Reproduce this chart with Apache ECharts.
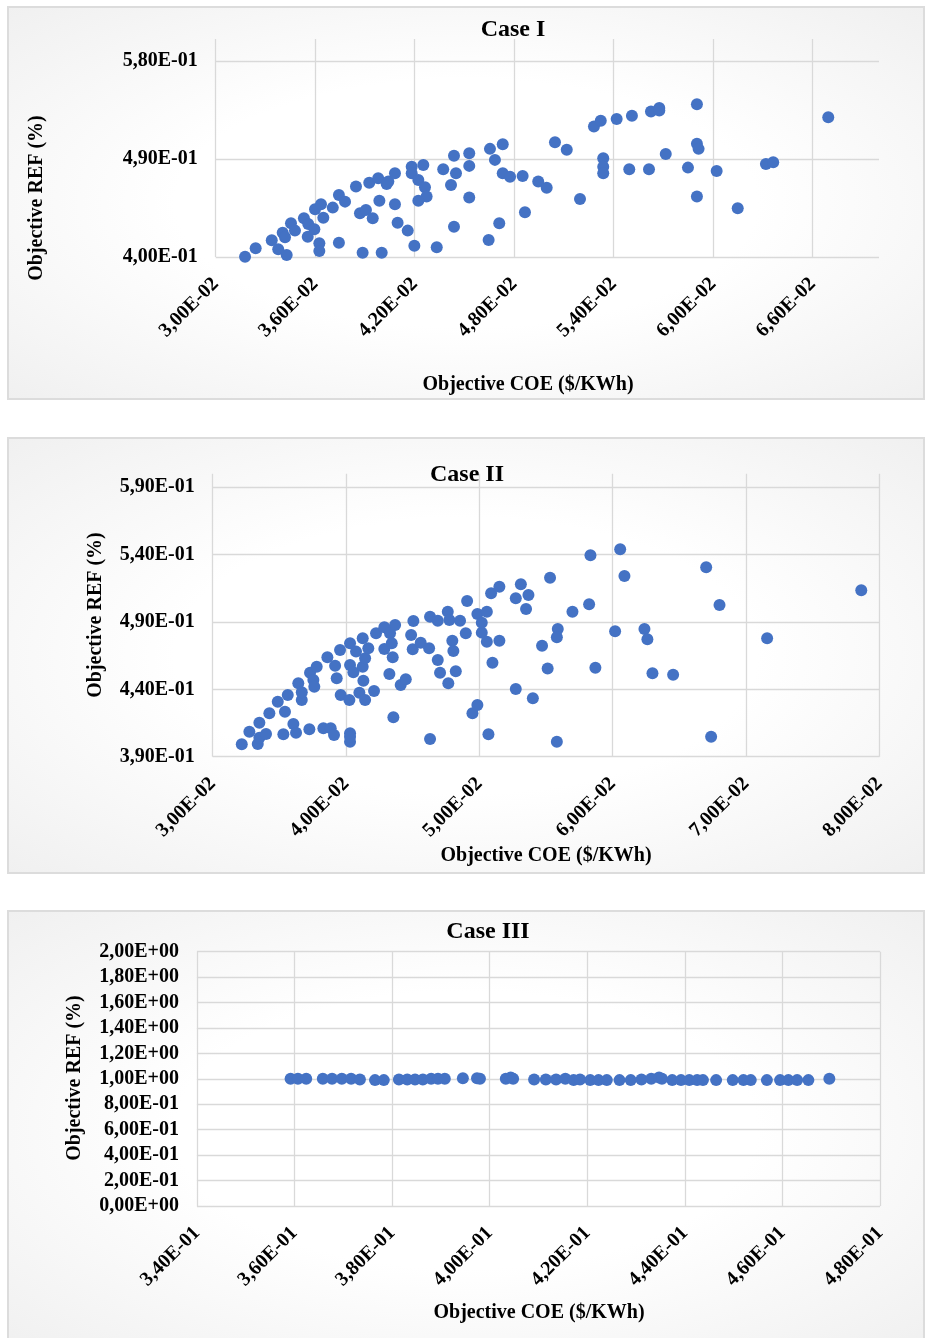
<!DOCTYPE html>
<html>
<head>
<meta charset="utf-8">
<title>Case I / II / III — COE vs REF</title>
<script src="https://cdn.jsdelivr.net/npm/echarts@6/dist/echarts.min.js"></script>
<style>
  html, body { margin: 0; padding: 0; background: #ffffff; }
  #wrap { position: relative; width: 925px; height: 1338px; overflow: hidden; }
  .panel {
    position: absolute; box-sizing: border-box;
    border: 2px solid #dcdcdc;
    background: radial-gradient(ellipse at 50% 50%, #ffffff 45%, #f0f0f0 100%);
  }
  #chart { position: absolute; left: 0; top: 0; width: 925px; height: 1338px; }
</style>
</head>
<body>
<div id="wrap">
  <div class="panel" style="left:7px;top:6px;width:918px;height:394px"></div>
  <div class="panel" style="left:7px;top:437px;width:918px;height:437px"></div>
  <div class="panel" style="left:7px;top:910px;width:918px;height:440px"></div>
  <div id="chart"></div>
</div>
<script>
// ---- Case I : Pareto points (COE in $/kWh, REF fraction) ----
const case1Coe = [0.03177,0.03241,0.03338,0.03377,0.03428,0.03404,0.03418,0.03454,0.03478,0.03532,
  0.03555,0.03558,0.03595,0.03599,0.03635,0.03649,0.03625,0.03625,0.03706,0.03743,
  0.03743,0.03780,0.03846,0.03870,0.03906,0.03947,0.03886,0.03926,0.03980,0.04031,
  0.04041,0.03987,0.04001,0.04081,0.04081,0.04097,0.04158,0.04182,0.04182,0.04252,
  0.04222,0.04262,0.04272,0.04222,0.04198,0.04333,0.04372,0.04437,0.04449,0.04419,
  0.04437,0.04529,0.04529,0.04529,0.04654,0.04731,0.04684,0.04731,0.04775,0.04851,
  0.04865,0.04710,0.04646,0.04945,0.04996,0.05046,0.05117,0.05197,0.05281,0.05322,
  0.05337,0.05337,0.05337,0.05418,0.05494,0.05510,0.05613,0.05625,0.05675,0.05675,
  0.05714,0.05848,0.05902,0.05902,0.05912,0.05902,0.06021,0.06148,0.06318,0.06362,
  0.06694];
const case1Ref = [0.4003,0.4080,0.4153,0.4071,0.4018,0.4223,0.4181,0.4310,0.4242,0.4355,
  0.4186,0.4303,0.4254,0.4438,0.4484,0.4361,0.4126,0.4055,0.4453,0.4131,
  0.4569,0.4508,0.4646,0.4401,0.4432,0.4355,0.4039,0.4682,0.4723,0.4670,
  0.4692,0.4517,0.4039,0.4769,0.4484,0.4315,0.4242,0.4829,0.4769,0.4845,
  0.4707,0.4640,0.4554,0.4517,0.4104,0.4089,0.4805,0.4928,0.4769,0.4661,
  0.4278,0.4952,0.4836,0.4545,0.4992,0.5035,0.4891,0.4769,0.4737,0.4744,
  0.4411,0.4310,0.4156,0.4692,0.4636,0.5053,0.4983,0.4533,0.5197,0.5249,
  0.4906,0.4829,0.4769,0.5267,0.4805,0.5295,0.4805,0.5334,0.5366,0.5344,
  0.4946,0.4820,0.5402,0.5038,0.4992,0.4554,0.4790,0.4447,0.4854,0.4870,
  0.5283];

// ---- Case II ----
const case2Coe = [0.03218,0.03275,0.03338,0.03350,0.03350,0.03400,0.03425,0.03488,0.03542,0.03563,
  0.03530,0.03605,0.03625,0.03642,0.03668,0.03668,0.03725,0.03730,0.03755,0.03762,
  0.03780,0.03830,0.03885,0.03910,0.03860,0.03918,0.03930,0.03955,0.03960,0.04025,
  0.04030,0.04030,0.04030,0.04030,0.04030,0.04055,0.04075,0.04125,0.04125,0.04130,
  0.04100,0.04143,0.04143,0.04167,0.04210,0.04225,0.04287,0.04287,0.04330,0.04343,
  0.04350,0.04368,0.04325,0.04355,0.04410,0.04448,0.04488,0.04500,0.04505,0.04560,
  0.04623,0.04630,0.04688,0.04688,0.04705,0.04630,0.04763,0.04775,0.04767,0.04797,
  0.04805,0.04823,0.04855,0.04898,0.04908,0.04948,0.04985,0.04985,0.05018,0.05018,
  0.05056,0.05056,0.05068,0.05098,0.05088,0.05150,0.05150,0.05273,0.05311,0.05368,
  0.05350,0.05273,0.05401,0.05470,0.05512,0.05530,0.05588,0.05581,0.05581,0.05698,
  0.05823,0.05833,0.05870,0.06056,0.06088,0.06018,0.06238,0.06260,0.06298,0.06453,
  0.06701,0.06801,0.06738,0.07158,0.07864];
const case2Ref = [0.3992,0.4086,0.3994,0.4041,0.4152,0.4069,0.4222,0.4308,0.4234,0.4358,
  0.4066,0.4143,0.4078,0.4445,0.4321,0.4378,0.4103,0.4524,0.4469,0.4420,
  0.4568,0.4111,0.4111,0.4061,0.4638,0.4576,0.4482,0.4692,0.4358,0.4321,
  0.4074,0.4011,0.4048,0.4742,0.4581,0.4527,0.4680,0.4779,0.4568,0.4464,
  0.4375,0.4631,0.4321,0.4705,0.4388,0.4816,0.4861,0.4700,0.4816,0.4742,
  0.4638,0.4878,0.4514,0.4193,0.4432,0.4475,0.4804,0.4697,0.4907,0.4746,
  0.4705,0.4939,0.4910,0.4618,0.4524,0.4031,0.4976,0.4915,0.4445,0.4761,
  0.4685,0.4534,0.4910,0.4816,0.5056,0.4222,0.4284,0.4959,0.4821,0.4895,
  0.4976,0.4754,0.4066,0.4598,0.5113,0.5162,0.4761,0.5076,0.5180,0.5100,
  0.4997,0.4403,0.4334,0.4724,0.4555,0.5229,0.4848,0.4786,0.4011,0.4976,
  0.5031,0.5395,0.4561,0.5440,0.5242,0.4831,0.4848,0.4772,0.4519,0.4509,
  0.5306,0.5026,0.4048,0.4779,0.5135];

// ---- Case III ----
const case3Coe = [0.3592,0.3607,0.3624,0.3658,0.3677,0.3697,0.3716,0.3734,0.3765,0.3783,
  0.3814,0.3831,0.3847,0.3863,0.3880,0.3894,0.3908,0.3945,0.3974,0.3980,
  0.4033,0.4043,0.4048,0.4091,0.4115,0.4136,0.4155,0.4172,0.4185,0.4206,
  0.4223,0.4240,0.4266,0.4289,0.4311,0.4331,0.4347,0.4353,0.4374,0.4392,
  0.4409,0.4425,0.4437,0.4464,0.4498,0.4520,0.4535,0.4568,0.4595,0.4612,
  0.4630,0.4653,0.4696];
const case3Ref = [1.000,1.000,1.000,1.000,1.000,1.000,1.000,0.995,0.990,0.990,
  0.995,0.995,0.995,0.995,1.000,1.000,1.000,1.005,1.005,1.000,
  1.000,1.010,1.000,0.995,0.995,0.995,1.000,0.990,0.995,0.990,
  0.990,0.990,0.990,0.990,0.995,1.000,1.010,1.000,0.990,0.990,
  0.990,0.990,0.990,0.990,0.990,0.990,0.990,0.990,0.990,0.990,
  0.990,0.990,1.000];

// ---- axis tick values ----
const case1XTicks = [0.030, 0.036, 0.042, 0.048, 0.054, 0.060, 0.066];
const case1YTicks = [0.40, 0.49, 0.58];
const case2XTicks = [0.03, 0.04, 0.05, 0.06, 0.07, 0.08];
const case2YTicks = [0.39, 0.44, 0.49, 0.54, 0.59];
const case3XTicks = [0.34, 0.36, 0.38, 0.40, 0.42, 0.44, 0.46, 0.48];
const case3YTicks = [0.0, 0.2, 0.4, 0.6, 0.8, 1.0, 1.2, 1.4, 1.6, 1.8, 2.0];

const caseTitles = ['Case I', 'Case II', 'Case III'];
const xName = 'Objective COE ($/KWh)';
const yName = 'Objective REF (%)';

const SERIF = '"Liberation Serif", "Times New Roman", Times, serif';
const BLUE = '#4472C4';
const GRID = '#d9d9d9';

// Scientific notation with a decimal comma, e.g. 4,90E-01
function sci(v) {
  const parts = Number(v).toExponential(2).split('e');
  const exp = parseInt(parts[1], 10);
  return parts[0].replace('.', ',') + 'E' + (exp < 0 ? '-' : '+') + String(Math.abs(exp)).padStart(2, '0');
}

function zip(xs, ys) {
  const n = Math.min(xs.length, ys.length);
  const out = [];
  for (let i = 0; i < n; i++) out.push([xs[i], ys[i]]);
  return out;
}

// Gridlines and labels sit only on the listed tick values
function axis(gridIndex, min, max, interval, ticks, isX) {
  return {
    type: 'value', gridIndex: gridIndex,
    min: min, max: max, interval: interval, scale: true,
    axisLine: { show: false },
    axisTick: { show: false, customValues: ticks },
    splitLine: { show: true, showMinLine: true, showMaxLine: true, lineStyle: { color: GRID, width: 1.3 } },
    axisLabel: {
      customValues: ticks, formatter: sci,
      fontFamily: SERIF, fontWeight: 'bold', fontSize: 20, color: '#000',
      margin: isX ? 24 : 18, rotate: isX ? 45 : 0,
      showMinLabel: true, showMaxLabel: true
    }
  };
}

function label(text, x, y, size, vertical) {
  return {
    type: 'text', x: x, y: y, rotation: vertical ? Math.PI / 2 : 0, z: 10,
    style: {
      text: text, fill: '#000', align: 'center', verticalAlign: 'middle',
      font: 'bold ' + size + 'px ' + SERIF
    }
  };
}

function scatter(i, xs, ys) {
  return {
    type: 'scatter', xAxisIndex: i, yAxisIndex: i, data: zip(xs, ys),
    symbol: 'circle', symbolSize: 12,
    itemStyle: { color: BLUE, opacity: 1 }
  };
}

const chart = echarts.init(document.getElementById('chart'), null, { renderer: 'canvas' });

chart.setOption({
  animation: false,
  backgroundColor: 'transparent',
  grid: [
    { left: 215.7, top: 39, width: 663.3, height: 218 },
    { left: 212.7, top: 473.8, width: 666.7, height: 282.9 },
    { left: 196.9, top: 951.7, width: 683.2, height: 254.3 }
  ],
  xAxis: [
    axis(0, 0.030, 0.070, 0.006, case1XTicks, true),
    axis(1, 0.03, 0.08, 0.01, case2XTicks, true),
    axis(2, 0.34, 0.48, 0.02, case3XTicks, true)
  ],
  yAxis: [
    axis(0, 0.40, 0.60, 0.09, case1YTicks, false),
    axis(1, 0.39, 0.60, 0.05, case2YTicks, false),
    axis(2, 0.0, 2.0, 0.2, case3YTicks, false)
  ],
  series: [
    scatter(0, case1Coe, case1Ref),
    scatter(1, case2Coe, case2Ref),
    scatter(2, case3Coe, case3Ref)
  ],
  graphic: [
    label(caseTitles[0], 513, 30, 24, false),
    label(caseTitles[1], 467, 475, 24, false),
    label(caseTitles[2], 488, 932, 24, false),
    label(xName, 528, 385, 20, false),
    label(xName, 546, 856, 20, false),
    label(xName, 539, 1313, 20, false),
    label(yName, 37, 198, 20, true),
    label(yName, 96, 615, 20, true),
    label(yName, 75, 1078, 20, true)
  ]
});
</script>
</body>
</html>
